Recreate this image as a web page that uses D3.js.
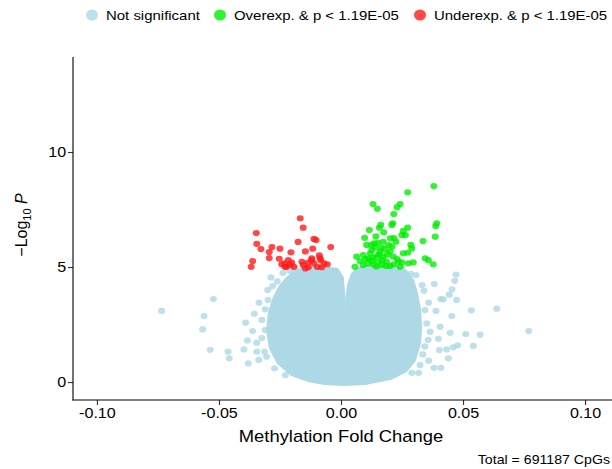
<!DOCTYPE html>
<html>
<head>
<meta charset="utf-8">
<script src="https://cdn.jsdelivr.net/npm/d3@7"></script>
<style>
  body { margin: 0; background: #fff; }
  text { font-family: "Liberation Sans", Arial, sans-serif; fill: #000; }
</style>
</head>
<body>
<div id="container"></div>
<script>
var width = 612;
var height = 469;

// legend / categories
var legendLabels = ["Not significant", "Overexp. & p < 1.19E-05", "Underexp. & p < 1.19E-05"];
var legendColors = ["#add8e6", "#00ee00", "#ff1a1a"];
var xTicks = [-0.10, -0.05, 0.00, 0.05, 0.10];
var yTicks = [0, 5, 10];

// dense cloud of non significant CpGs, outline of each lobe [fold change, -log10 p]
var cloudLeft = [[-0.0180,4.83],[-0.0127,4.96],[-0.0066,4.96],[-0.0016,4.87],[0.0004,4.52],[0.0010,3.57],
  [0.0014,2.35],[0.0012,1.20],[0.0008,-0.09],[-0.0066,-0.04],[-0.0135,0.09],[-0.0201,0.35],[-0.0254,0.83],
  [-0.0287,1.48],[-0.0299,2.26],[-0.0291,3.04],[-0.0270,3.70],[-0.0246,4.17],[-0.0217,4.52]];
var cloudRight = [[0.0029,2.26],[0.0025,3.57],[0.0033,4.22],[0.0049,4.70],[0.0078,4.96],[0.0160,5.00],
  [0.0230,5.00],[0.0266,4.78],[0.0291,4.43],[0.0307,3.87],[0.0320,3.13],[0.0324,2.39],[0.0320,1.70],
  [0.0299,0.96],[0.0266,0.52],[0.0201,0.17],[0.0098,-0.04],[0.0016,-0.09],[0.0018,1.20]];

// scattered non significant CpGs outside the cloud
var notSig = [[-0.0735,3.09],[-0.0523,3.61],[-0.0561,2.87],[-0.0567,2.29],[-0.0536,1.40],[-0.0463,1.32],
  [-0.0458,1.03],[-0.0398,1.42],[-0.0384,1.81],[-0.0362,2.22],[-0.0391,2.58],[-0.0355,2.97],[-0.0336,3.45],
  [-0.0380,0.81],[-0.0345,1.71],[-0.0345,1.32],[-0.0311,3.16],[-0.0287,4.55],[-0.0280,4.17],[-0.0250,3.97],
  [-0.0261,4.38],[-0.0324,2.70],[-0.0337,0.96],[-0.0313,1.32],[-0.0238,4.74],[-0.0209,4.83],[-0.0311,2.26],
  [-0.0324,1.91],[-0.0299,3.57],[-0.0272,0.60],[-0.0228,0.30],[-0.0305,1.10],[-0.0190,4.95],[-0.0300,4.00],
  [0.0769,2.22],[0.0638,3.19],[0.0534,3.12],[0.0570,2.06],[0.0511,2.09],[0.0542,1.57],[0.0471,4.67],
  [0.0466,4.40],[0.0382,4.26],[0.0455,4.03],[0.0474,3.57],[0.0444,3.80],[0.0409,3.61],[0.0447,2.14],
  [0.0478,1.60],[0.0460,1.51],[0.0381,0.62],[0.0409,0.62],[0.0440,1.03],[0.0403,1.39],[0.0433,1.42],
  [0.0406,2.40],[0.0454,2.87],[0.0359,3.45],[0.0389,3.09],[0.0351,2.55],[0.0365,2.19],[0.0399,1.88],
  [0.0343,1.55],[0.0359,0.93],[0.0318,0.40],[0.0340,3.97],[0.0419,3.60],[0.0307,4.65],[0.0332,4.22],
  [0.0344,3.13],[0.0357,1.83],[0.0324,0.74],[0.0285,4.70],[0.0290,0.40],[0.0335,1.20],[0.0250,4.90]];

// overexpressed, significant
var overSig = [[0.0380,8.52],[0.0273,8.25],[0.0131,7.74],[0.0149,7.53],[0.0242,7.74],[0.0230,7.60],
  [0.0216,7.30],[0.0392,6.90],[0.0388,6.78],[0.0212,6.90],[0.0208,6.83],[0.0163,6.83],[0.0157,6.71],
  [0.0273,6.71],[0.0116,6.61],[0.0175,6.51],[0.0255,6.57],[0.0264,6.39],[0.0249,6.39],[0.0386,6.32],
  [0.0336,6.13],[0.0097,6.27],[0.0143,6.33],[0.0202,6.25],[0.0217,6.26],[0.0225,6.10],[0.0135,6.03],
  [0.0105,5.96],[0.0173,6.10],[0.0209,5.88],[0.0286,5.96],[0.0290,5.81],[0.0126,5.74],[0.0160,5.67],
  [0.0180,5.78],[0.0201,5.67],[0.0255,5.60],[0.0273,5.62],[0.0064,5.45],[0.0091,5.52],[0.0112,5.38],
  [0.0146,5.45],[0.0173,5.45],[0.0214,5.45],[0.0345,5.38],[0.0358,5.30],[0.0378,5.12],[0.0235,5.23],
  [0.0249,5.20],[0.0276,5.16],[0.0296,5.20],[0.0057,5.01],[0.0091,5.09],[0.0132,5.12],[0.0167,5.09],
  [0.0201,5.04],[0.0242,5.01],[0.0078,5.26],[0.0126,5.26],[0.0187,5.23],[0.0153,5.23],[0.0120,5.60],
  [0.0140,5.85],[0.0155,5.55],[0.0170,5.30],[0.0190,5.55],[0.0110,5.15],[0.0145,5.02],[0.0130,5.40],
  [0.0165,5.85],[0.0195,5.95],[0.0100,5.35],[0.0215,5.12],[0.0230,5.35],[0.0185,5.05],[0.0125,5.95],
  [0.0150,6.05]];

// underexpressed, significant
var underSig = [[-0.0167,7.12],[-0.0155,6.71],[-0.0347,6.48],[-0.0345,6.01],[-0.0328,5.78],[-0.0283,5.87],
  [-0.0294,5.65],[-0.0250,5.80],[-0.0176,6.09],[-0.0111,6.22],[-0.0102,6.17],[-0.0042,5.87],[-0.0146,5.68],
  [-0.0205,5.64],[-0.0116,5.80],[-0.0089,5.51],[-0.0294,5.39],[-0.0253,5.36],[-0.0362,5.26],[-0.0368,5.01],
  [-0.0232,5.16],[-0.0216,5.30],[-0.0202,5.19],[-0.0160,5.23],[-0.0155,5.09],[-0.0134,5.19],[-0.0120,5.30],
  [-0.0111,5.16],[-0.0083,5.30],[-0.0070,5.16],[-0.0056,5.12],[-0.0193,5.01],[-0.0134,4.99],[-0.0097,5.01],
  [-0.0079,4.99],[-0.0223,5.01],[-0.0243,5.12],[-0.0146,4.94],[-0.0120,5.38],[-0.0086,5.39],[-0.0209,5.09],
  [-0.0230,5.01]];

var totalLabel = "Total = 691187 CpGs";

var sx = 1.15; // glyphs in the reference are a bit wider than tall

var svg = d3.select("div#container").append("svg")
    .attr("width", width)
    .attr("height", height);

var x = d3.scaleLinear().domain([-0.1098, 0.1098]).range([73, 609]);
var y = d3.scaleLinear().domain([-0.78, 14.13]).range([400, 57]);

// cloud
var line = d3.line().x(function(d) { return x(d[0]); }).y(function(d) { return y(d[1]); }).curve(d3.curveLinearClosed);
svg.selectAll("path.cloud")
    .data([cloudLeft, cloudRight])
    .enter()
    .append("path")
    .attr("class", "cloud")
    .attr("d", line)
    .attr("fill", "#add8e6")
    .attr("stroke", "#add8e6")
    .attr("stroke-width", 4)
    .attr("stroke-linejoin", "round");

function dots(data, color) {
  svg.append("g").selectAll("ellipse")
      .data(data)
      .enter()
      .append("ellipse")
      .attr("cx", function(d) { return x(d[0]); })
      .attr("cy", function(d) { return y(d[1]); })
      .attr("rx", 3.5)
      .attr("ry", 3.1)
      .attr("fill", color)
      .attr("fill-opacity", 0.8);
}
dots(notSig, legendColors[0]);
dots(overSig, legendColors[1]);
dots(underSig, legendColors[2]);

// axes
var xAxis = svg.append("g")
    .attr("transform", "translate(0,400)")
    .call(d3.axisBottom(x).tickValues(xTicks).tickFormat(d3.format(".2f")).tickSizeOuter(0).tickSize(5));
var yAxis = svg.append("g")
    .attr("transform", "translate(73,0)")
    .call(d3.axisLeft(y).tickValues(yTicks).tickSizeOuter(0).tickSize(5));

[xAxis, yAxis].forEach(function(a) {
  a.select(".domain").remove();
  a.selectAll("line").attr("stroke", "#333").attr("stroke-width", 1.1);
  a.selectAll("text")
      .style("font-family", "Liberation Sans, Arial, sans-serif")
      .style("font-size", "14px")
      .attr("fill", "#4d4d4d")
      .attr("transform", "scale(" + sx + ",1)");
});
xAxis.selectAll("text").attr("y", 8).text(function(d) { return d3.format(".2f")(d).replace("−", "-"); });
yAxis.selectAll("text").attr("x", -6);

svg.append("line").attr("x1", 73).attr("x2", 73).attr("y1", y(14.13)).attr("y2", 400.5)
    .attr("stroke", "#000").attr("stroke-width", 1.1);
svg.append("line").attr("x1", 72.5).attr("x2", width).attr("y1", 400).attr("y2", 400)
    .attr("stroke", "#000").attr("stroke-width", 1.1);

// titles
svg.append("text")
    .attr("transform", "translate(" + x(0) + ",442) scale(" + sx + ",1)")
    .attr("text-anchor", "middle")
    .style("font-size", "16px")
    .text("Methylation Fold Change");

var yl = svg.append("text")
    .attr("transform", "translate(27,225) rotate(-90)")
    .attr("text-anchor", "middle")
    .style("font-size", "16px");
yl.append("tspan").text("\u2212Log");
yl.append("tspan").attr("dy", 4).style("font-size", "11px").text("10");
yl.append("tspan").attr("dy", -4).text(" ");
yl.append("tspan").style("font-style", "italic").text("P");

svg.append("text")
    .attr("transform", "translate(610,464) scale(" + sx + ",1)")
    .attr("text-anchor", "end")
    .style("font-size", "12.3px")
    .text(totalLabel);

// legend
var legendX = [92, 220, 420];
var lg = svg.append("g").selectAll("g")
    .data(legendLabels)
    .enter()
    .append("g")
    .attr("transform", function(d, i) { return "translate(" + legendX[i] + ",15)"; });
lg.append("ellipse")
    .attr("rx", 6).attr("ry", 5.5)
    .attr("fill", function(d, i) { return legendColors[i]; })
    .attr("fill-opacity", 0.8);
lg.append("text")
    .attr("transform", "translate(14,5) scale(" + sx + ",1)")
    .style("font-size", "13px")
    .text(function(d) { return d; });
</script>
</body>
</html>
